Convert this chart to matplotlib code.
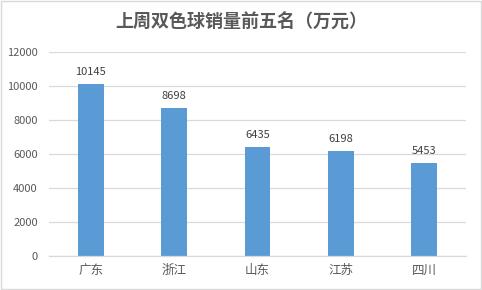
import matplotlib.pyplot as plt
import numpy as np

plt.rcParams['font.family'] = ['Noto Sans CJK SC', 'DejaVu Sans']

# data
provinces = ['广东', '浙江', '山东', '江苏', '四川']
sales = [10145, 8698, 6435, 6198, 5453]
yticks = [0, 2000, 4000, 6000, 8000, 10000, 12000]

txt = '#595959'
fig = plt.figure(figsize=(4.82, 2.90), dpi=100)
ax = fig.add_axes([49 / 482, 34 / 290, 417 / 482, 204 / 290])

x = np.arange(len(provinces))
bars = ax.bar(x, sales, width=0.31, color='#5B9BD5', zorder=2)
for b, v in zip(bars, sales):
    ax.annotate(str(v), (b.get_x() + b.get_width() / 2, v), xytext=(0, 5),
                textcoords='offset points', ha='center', va='bottom',
                fontsize=8, color='#404040')

ax.set_xlim(-0.5, len(provinces) - 0.5)
ax.set_ylim(0, 12000)
ax.set_yticks(yticks)
ax.set_xticks(x)
ax.set_xticklabels(provinces, fontsize=9, color=txt)
ax.tick_params(axis='y', labelsize=8, labelcolor=txt, length=0, pad=8)
ax.tick_params(axis='x', length=0, pad=6)
ax.yaxis.grid(True, color='#d9d9d9', linewidth=0.9, zorder=0)
for s in ['top', 'right', 'left']:
    ax.spines[s].set_visible(False)
ax.spines['bottom'].set_color('#d9d9d9')
ax.spines['bottom'].set_linewidth(0.9)

fig.text(0.5, 1 - 22 / 290, '上周双色球销量前五名（万元）', ha='center', va='center',
         fontsize=13, fontweight='bold', color=txt)

# outer frame
fig.patches.append(plt.Rectangle((0.002, 0.003), 0.995, 0.994, transform=fig.transFigure,
                                 fill=False, edgecolor='#d9d9d9', linewidth=1))

plt.savefig('out.png', dpi=100)
